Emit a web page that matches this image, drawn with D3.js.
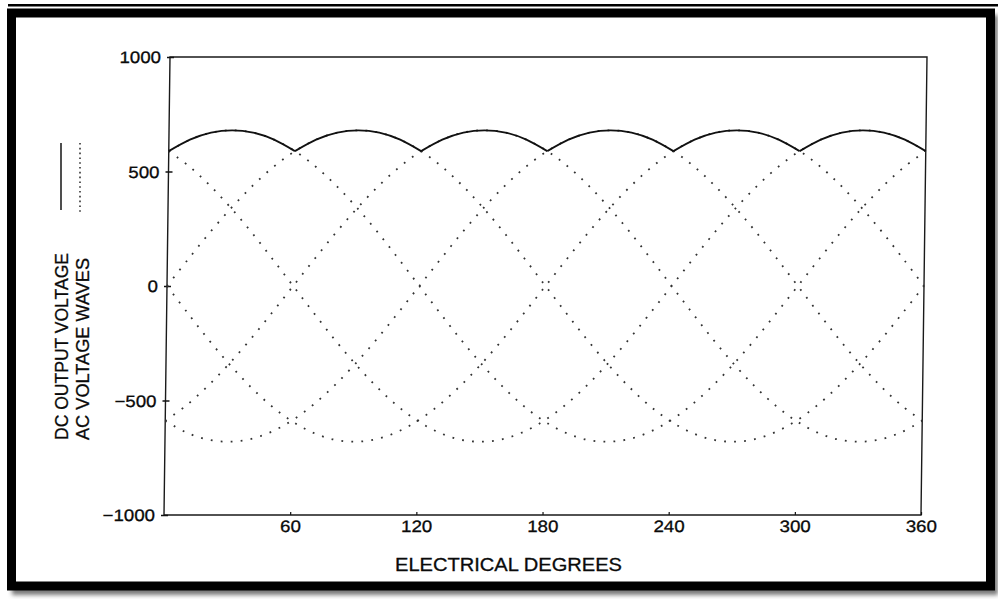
<!DOCTYPE html>
<html>
<head>
<meta charset="utf-8">
<script src="https://cdn.jsdelivr.net/npm/d3@7"></script>
<style>
  html, body { margin: 0; padding: 0; background: #fff; }
  svg { display: block; }
  text { font-family: "Liberation Sans", Arial, Helvetica, sans-serif; fill: #0a0a0a; stroke: #0a0a0a; stroke-width: 0.3px; }
</style>
</head>
<body>
<svg id="chart" width="998" height="599"></svg>
<script>
// Electrical angle samples (degrees)
const angles = [0,10,20,30,40,50,60,70,80,90,100,110,120,130,140,150,160,170,180,
                190,200,210,220,230,240,250,260,270,280,290,300,310,320,330,340,350,360];

// Six line-to-line AC voltage waves (volts), one value per angle above
const waveA = [589,639,670,680,670,639,589,521,437,340,233,118,0,-118,-233,-340,-437,-521,-589,
               -639,-670,-680,-670,-639,-589,-521,-437,-340,-233,-118,0,118,233,340,437,521,589];
const waveB = [0,118,233,340,437,521,589,639,670,680,670,639,589,521,437,340,233,118,0,
               -118,-233,-340,-437,-521,-589,-639,-670,-680,-670,-639,-589,-521,-437,-340,-233,-118,0];
const waveC = [-589,-521,-437,-340,-233,-118,0,118,233,340,437,521,589,639,670,680,670,639,589,
               521,437,340,233,118,0,-118,-233,-340,-437,-521,-589,-639,-670,-680,-670,-639,-589];
const waveD = [-589,-639,-670,-680,-670,-639,-589,-521,-437,-340,-233,-118,0,118,233,340,437,521,589,
               639,670,680,670,639,589,521,437,340,233,118,0,-118,-233,-340,-437,-521,-589];
const waveE = [0,-118,-233,-340,-437,-521,-589,-639,-670,-680,-670,-639,-589,-521,-437,-340,-233,-118,0,
               118,233,340,437,521,589,639,670,680,670,639,589,521,437,340,233,118,0];
const waveF = [589,521,437,340,233,118,0,-118,-233,-340,-437,-521,-589,-639,-670,-680,-670,-639,-589,
               -521,-437,-340,-233,-118,0,118,233,340,437,521,589,639,670,680,670,639,589];

// Rectified DC output voltage (volts)
const dcOutput = [589,639,670,680,670,639,589,639,670,680,670,639,589,639,670,680,670,639,589,
                  639,670,680,670,639,589,639,670,680,670,639,589,639,670,680,670,639,589];
// Commutation points split the DC output into pulses
const commutations = [0,60,120,180,240,300,360];

const xTicks = [60,120,180,240,300,360];
const yTicks = [-1000,-500,0,500,1000];
const xTitle = "ELECTRICAL DEGREES";
const yTitles = ["DC OUTPUT VOLTAGE", "AC VOLTAGE WAVES"];

const svg = d3.select("#chart");

// ---- page frame with drop shadow ----
const defs = svg.append("defs");
defs.append("filter").attr("id", "shadow")
  .attr("x", "-5%").attr("y", "-5%").attr("width", "110%").attr("height", "110%")
  .append("feGaussianBlur").attr("stdDeviation", 2.2);

svg.append("rect").attr("x", 12).attr("y", 15).attr("width", 986).attr("height", 580)
  .attr("fill", "#7a7a7a").attr("filter", "url(#shadow)");
svg.append("rect").attr("x", 11.5).attr("y", 13).attr("width", 979).attr("height", 573)
  .attr("fill", "#fff").attr("stroke", "#000").attr("stroke-width", 9);
svg.append("line").attr("x1", 8).attr("x2", 998).attr("y1", 5.3).attr("y2", 5.3)
  .attr("stroke", "#000").attr("stroke-width", 2.6);

// ---- plot area ----
const pLeft = 164, pRight = 921, pTop = 57, pBottom = 515;
const x = d3.scaleLinear().domain([0, 360]).range([pLeft, pRight]);
const y = d3.scaleLinear().domain([-1000, 1000]).range([pBottom, pTop]);

const plot = svg.append("g")
  .attr("transform", `translate(0,${pBottom}) skewX(-0.75) translate(0,${-pBottom})`);

// frame box
plot.append("rect").attr("x", pLeft).attr("y", pTop)
  .attr("width", pRight - pLeft).attr("height", pBottom - pTop)
  .attr("fill", "none").attr("stroke", "#1a1a1a").attr("stroke-width", 1.4);

// y axis
const yAxis = plot.append("g").attr("transform", `translate(${pLeft},0)`)
  .call(d3.axisLeft(y).tickValues(yTicks).tickSize(4).tickPadding(0)
    .tickFormat(d => d < 0 ? "\u2212" + Math.abs(d) : String(d)));
yAxis.select(".domain").remove();
yAxis.selectAll(".tick line").attr("x1", -3).attr("x2", 4).attr("stroke", "#111").attr("stroke-width", 1.3);
yAxis.selectAll(".tick text")
  .attr("x", -8).attr("dy", "0.36em")
  .attr("transform", "scale(1.13,1)")
  .style("font-size", "16.5px").attr("fill", "#0a0a0a");

// x axis
const xAxis = plot.append("g").attr("transform", `translate(0,${pBottom})`)
  .call(d3.axisBottom(x).tickValues(xTicks).tickSize(0).tickPadding(0));
xAxis.select(".domain").remove();
xAxis.selectAll(".tick").append("line")
  .attr("y1", 0).attr("y2", -3).attr("stroke", "#111").attr("stroke-width", 1.2);
xAxis.selectAll(".tick text")
  .attr("y", 17).attr("dy", 0)
  .attr("transform", "scale(1.13,1)")
  .style("font-size", "16.5px").attr("fill", "#0a0a0a");

// ---- AC voltage waves (dotted) ----
const line = d3.line()
  .x((d, i) => x(angles[i]))
  .y(d => y(d))
  .curve(d3.curveCatmullRom.alpha(0.5));

[waveA, waveB, waveC, waveD, waveE, waveF].forEach(w => {
  plot.append("path").attr("d", line(w))
    .attr("fill", "none").attr("stroke", "#333")
    .attr("stroke-width", 1.8)
    .attr("stroke-dasharray", "1.8 8.2");
});

// ---- DC output voltage (solid), one pulse per commutation interval ----
for (let k = 0; k < commutations.length - 1; k++) {
  const pts = angles.map((a, i) => [a, dcOutput[i]])
    .filter(p => p[0] >= commutations[k] && p[0] <= commutations[k + 1]);
  plot.append("path")
    .attr("d", d3.line().x(p => x(p[0])).y(p => y(p[1])).curve(d3.curveNatural)(pts))
    .attr("fill", "none").attr("stroke", "#111").attr("stroke-width", 1.8);
}

// ---- titles ----
svg.append("text")
  .attr("x", 508.5).attr("y", 571)
  .attr("text-anchor", "middle")
  .attr("textLength", 227).attr("lengthAdjust", "spacingAndGlyphs")
  .style("font-size", "18.5px")
  .text(xTitle);

svg.append("text")
  .attr("transform", "translate(68,440) rotate(-90)")
  .attr("textLength", 187).attr("lengthAdjust", "spacingAndGlyphs")
  .style("font-size", "17.5px")
  .text(yTitles[0]);
svg.append("text")
  .attr("transform", "translate(88.5,440) rotate(-90)")
  .attr("textLength", 182).attr("lengthAdjust", "spacingAndGlyphs")
  .style("font-size", "17.5px")
  .text(yTitles[1]);

// legend samples above the axis titles
svg.append("line").attr("x1", 61).attr("x2", 61).attr("y1", 143).attr("y2", 210)
  .attr("stroke", "#222").attr("stroke-width", 1.6);
svg.append("line").attr("x1", 80).attr("x2", 80).attr("y1", 143).attr("y2", 212)
  .attr("stroke", "#333").attr("stroke-width", 1.6).attr("stroke-dasharray", "1.6 3.2");
</script>
</body>
</html>
